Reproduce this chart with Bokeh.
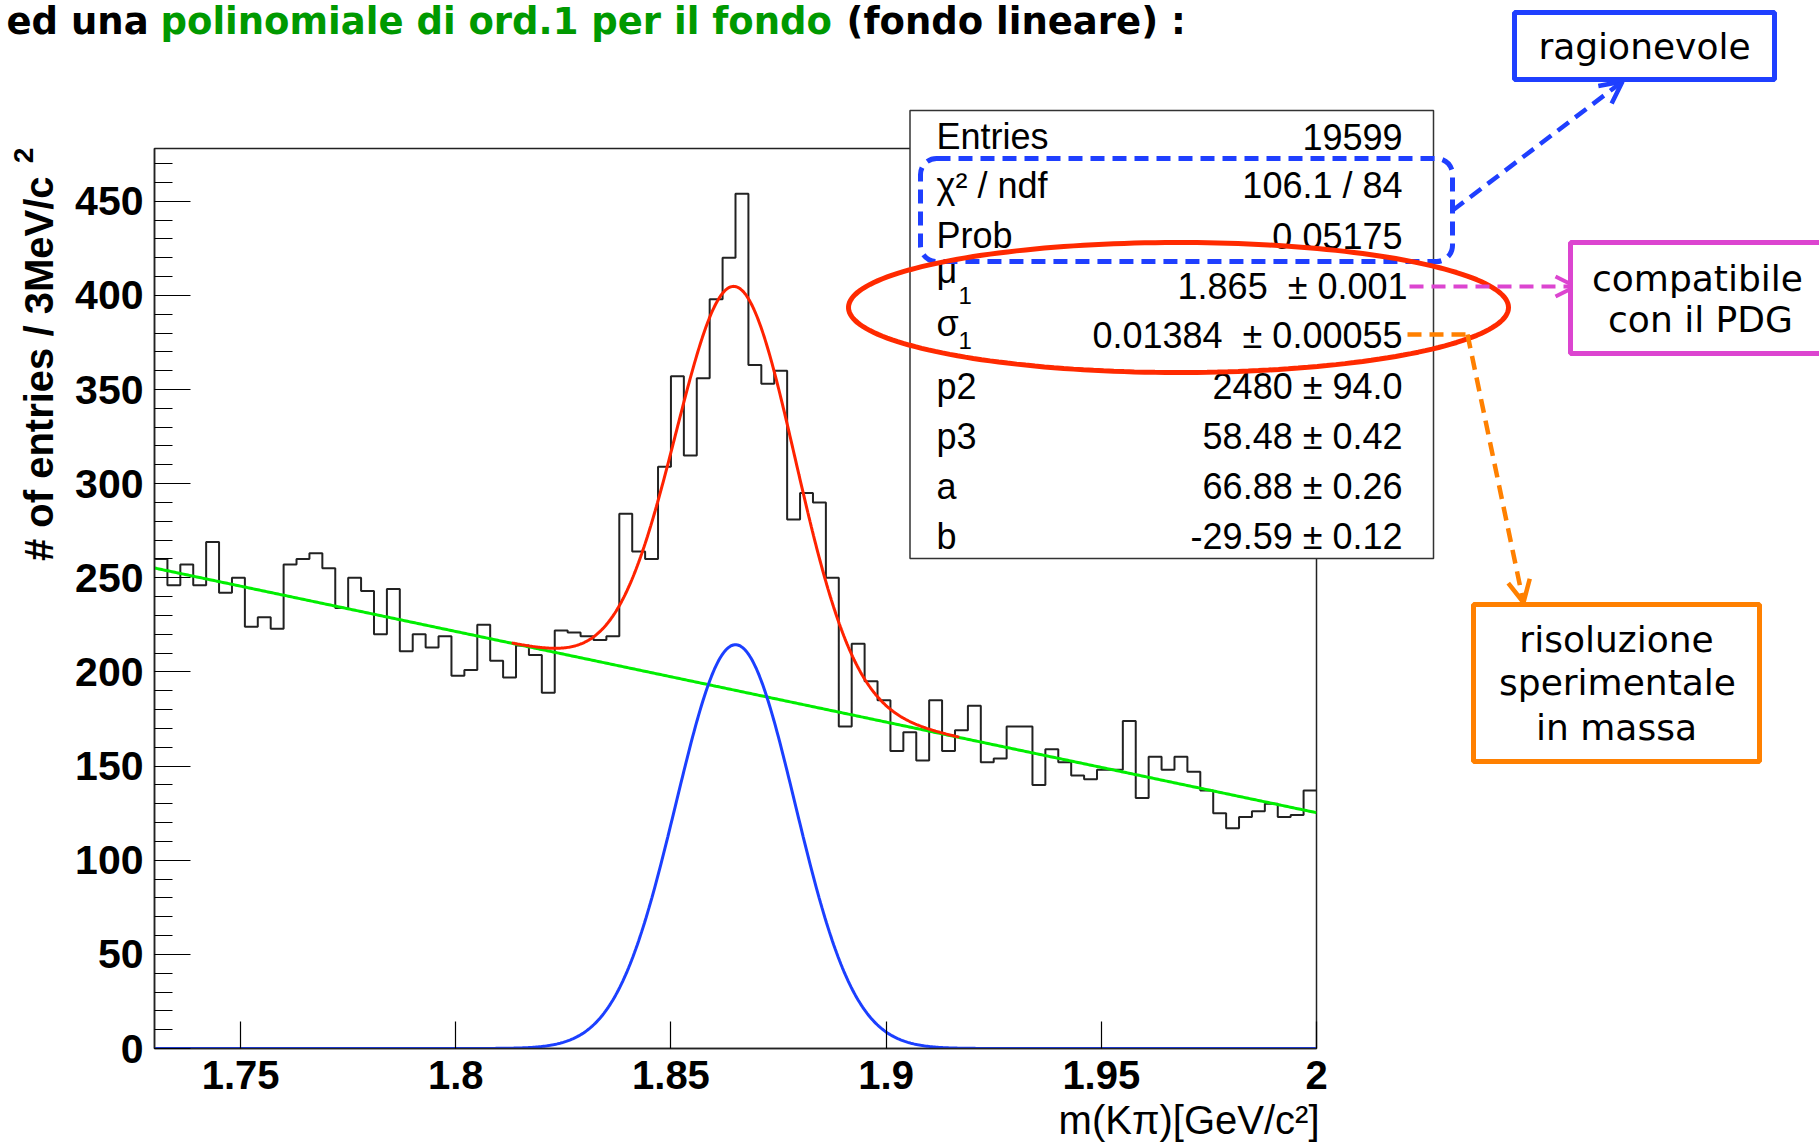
import numpy as np
from bokeh.plotting import figure
from bokeh.models import (Range1d, FixedTicker, NumeralTickFormatter, Label, BoxAnnotation,
                          PolyAnnotation, Arrow, OpenHead)
from bokeh.embed import file_html
from bokeh.resources import INLINE

# ---------------- data ----------------
bin_lo = 1.73
bin_width = 0.003
counts = [260, 246, 257, 246, 269, 242, 250, 224, 229, 223,
          257, 260, 263, 255, 234, 250, 243, 220, 244, 211,
          220, 213, 219, 198, 201, 225, 206, 197, 214, 209,
          189, 222, 221, 219, 217, 219, 284, 264, 260, 309,
          357, 315, 356, 398, 420, 454, 363, 353, 360, 281,
          295, 290, 250, 171, 215, 195, 185, 158, 168, 153,
          185, 158, 169, 182, 152, 154, 171, 171, 140, 159,
          152, 145, 143, 148, 148, 174, 133, 155, 148, 155,
          147, 137, 125, 117, 123, 126, 130, 123, 124, 137]
entries = 19599

# fit parameters (stat box)
mu1 = 1.865
sigma1 = 0.01384
p2 = 2480.0
p3 = 58.48
a_par = 66.88
b_par = -29.59
red_range = [1.813, 1.917]

stats_labels = ["Entries", "\u03c7\u00b2 / ndf", "Prob", "\u03bc", "\u03c3", "p2", "p3", "a", "b"]
stats_values = ["19599", "106.1 / 84", "0.05175", "1.865\u00a0 \u00b1 0.001",
                "0.01384\u00a0 \u00b1 0.00055",
                "2480 \u00b1 94.0", "58.48 \u00b1 0.42", "66.88 \u00b1 0.26", "-29.59 \u00b1 0.12"]

x_ticks = [1.75, 1.8, 1.85, 1.9, 1.95, 2.0]
y_ticks = [0, 50, 100, 150, 200, 250, 300, 350, 400, 450]
y_minor = list(range(0, 480, 10))

# ---------------- geometry ----------------
W, H = 1819, 1142
FL, FR, FT, FB = 154, 1316, 148, 1048
X0, X1, Y0, Y1 = 1.73, 2.0, 0.0, 478.0

# ---------------- main plot ----------------
p = figure(width=W, height=H, x_range=Range1d(X0, X1), y_range=Range1d(Y0, Y1),
           output_backend="svg", toolbar_location=None,
           min_border_left=FL, min_border_right=W - FR, min_border_top=FT, min_border_bottom=H - FB,
           styles={"position": "absolute", "left": "0px", "top": "0px", "z-index": "0"})
p.grid.visible = False
p.background_fill_color = "white"
p.border_fill_color = "white"
p.outline_line_color = "#222222"
p.outline_line_width = 1.5

xa = p.xaxis[0]
xa.ticker = FixedTicker(ticks=x_ticks, minor_ticks=[])
xa.formatter = NumeralTickFormatter(format="0.[00]")
xa.major_tick_in = 27
xa.major_tick_out = 0
xa.minor_tick_in = 0
xa.minor_tick_out = 0
xa.axis_line_color = "#222222"
xa.axis_line_width = 1.5
xa.major_tick_line_width = 1.2
xa.major_label_text_font = "Liberation Sans"
xa.major_label_text_font_style = "bold"
xa.major_label_text_font_size = "40px"
xa.major_label_text_color = "black"
xa.major_label_standoff = 12

ya = p.yaxis[0]
ya.ticker = FixedTicker(ticks=y_ticks, minor_ticks=y_minor)
ya.major_tick_in = 36
ya.major_tick_out = 0
ya.minor_tick_in = 18
ya.minor_tick_out = 0
ya.axis_line_color = "#222222"
ya.axis_line_width = 1.5
ya.major_tick_line_width = 1.2
ya.minor_tick_line_width = 1.2
ya.major_label_text_font = "Liberation Sans"
ya.major_label_text_font_style = "bold"
ya.major_label_text_font_size = "41px"
ya.major_label_text_color = "black"
ya.major_label_standoff = 11

edges = bin_lo + bin_width * np.arange(len(counts) + 1)
vals = list(counts) + [counts[-1]]
p.step(edges, vals, mode="after", line_color="#222222", line_width=2)

xx = np.linspace(X0, X1, 800)
gauss = p2 * bin_width / (np.sqrt(2 * np.pi) * sigma1) * np.exp(-0.5 * ((xx - mu1) / sigma1) ** 2)
integral = a_par * (X1 - X0) + b_par * (X1 ** 2 - X0 ** 2) / 2
bkg_norm = (entries - p2) * bin_width / integral
bkg = bkg_norm * (a_par + b_par * xx)
p.line(xx, bkg, line_color="#00ee00", line_width=3)
p.line(xx, gauss, line_color="#1b3fff", line_width=3)
xr = np.linspace(red_range[0], red_range[1], 400)
tot = (p2 * bin_width / (np.sqrt(2 * np.pi) * sigma1) * np.exp(-0.5 * ((xr - mu1) / sigma1) ** 2)
       + bkg_norm * (a_par + b_par * xr))
p.line(xr, tot, line_color="#ff2200", line_width=3)

# ---------------- transparent overlay (page pixels) ----------------
ov = figure(width=W, height=H, x_range=Range1d(0, W), y_range=Range1d(H, 0),
            output_backend="svg", toolbar_location=None,
            x_axis_location=None, y_axis_location=None,
            min_border_left=0, min_border_right=0, min_border_top=0, min_border_bottom=0,
            styles={"position": "absolute", "left": "0px", "top": "0px", "z-index": "1"})
ov.grid.visible = False
ov.outline_line_color = None
ov.background_fill_alpha = 0.0
ov.border_fill_alpha = 0.0


def lab(x, y, text, size, font="Liberation Sans", style="normal", align="left",
        color="black", angle=0.0):
    ov.add_layout(Label(x=x, y=y, text=text, text_align=align, text_baseline="middle",
                        text_font=font, text_font_style=style, text_font_size=size,
                        text_color=color, angle=angle))


# axis titles
lab(38.5, 176, "# of entries / 3MeV/c", "40px", style="bold", align="right", angle=np.pi / 2)
lab(23, 155, "2", "28px", style="bold", align="center", angle=np.pi / 2)
lab(1319, 1119, "m(K\u03c0)[GeV/c\u00b2]", "40px", align="right")

# page title
title_parts = [("ed una", 6, "black"), ("polinomiale di ord.1 per il fondo", 160, "#009900"),
               ("(fondo lineare) :", 846, "black")]
for txt, px, col in title_parts:
    lab(px, 21, txt, "37px", font="DejaVu Sans", style="bold", color=col)

# stats box
ov.add_layout(BoxAnnotation(left=909.5, right=1433, top=110, bottom=558,
                            fill_color="white", fill_alpha=1.0, line_color="#333333",
                            line_alpha=1.0, line_width=1.5))
row_mid = [136, 185, 235, 285.5, 335, 386, 436, 486, 536]
label_mid = [136, 185, 235, 270, 323, 386, 436, 486, 536]
value_right = [1402, 1402, 1402, 1407, 1402, 1402, 1402, 1402, 1402]
for i, (lb, val) in enumerate(zip(stats_labels, stats_values)):
    lab(936, label_mid[i], lb, "36px")
    lab(value_right[i], row_mid[i], val, "36px", align="right")
for ym in (295, 340):
    lab(958, ym, "1", "24px")

BLUE = "#1f3fff"
MAG = "#dc45d0"
ORA = "#ff8000"
RED = "#ff2a00"

# blue dashed rounded box around chi2 / prob
ov.add_layout(BoxAnnotation(left=920, right=1452, top=158, bottom=261,
                            fill_alpha=0.0, line_color=BLUE, line_alpha=1.0, line_width=5,
                            line_dash="14 8", border_radius=16))

# red ellipse
t = np.linspace(0, 2 * np.pi, 200)
ex = list(1178 + 330 * np.cos(t))
ey = list(307 + 65 * np.sin(t))
ov.add_layout(PolyAnnotation(xs=ex, ys=ey, fill_alpha=0.0, line_color=RED, line_alpha=1.0,
                             line_width=5))

# arrows
ov.add_layout(Arrow(x_start=1452, y_start=210, x_end=1622, y_end=81,
                    line_color=BLUE, line_width=4.5, line_dash="14 8",
                    end=OpenHead(size=22, line_color=BLUE, line_width=4.5)))
ov.add_layout(Arrow(x_start=1409, y_start=286, x_end=1575, y_end=286,
                    line_color=MAG, line_width=4, line_dash="14 8",
                    end=OpenHead(size=20, line_color=MAG, line_width=4)))
ov.add_layout(Arrow(x_start=1407, y_start=334, x_end=1467, y_end=334,
                    line_color=ORA, line_width=4.5, line_dash="14 8", end=None))
ov.add_layout(Arrow(x_start=1467, y_start=334, x_end=1523, y_end=602,
                    line_color=ORA, line_width=4.5, line_dash="14 8",
                    end=OpenHead(size=22, line_color=ORA, line_width=4.5)))

# annotation boxes
boxes = [(1514, 1774, 12, 79, BLUE), (1570, 1835, 242, 353, MAG), (1473, 1759, 604, 761, ORA)]
for l, r, tp, bt, col in boxes:
    ov.add_layout(BoxAnnotation(left=l, right=r, top=tp, bottom=bt,
                                fill_color="white", fill_alpha=1.0, line_color=col,
                                line_alpha=1.0, line_width=5))
notes = [("ragionevole", 1644, 46), ("compatibile", 1697, 278), ("con il PDG", 1700, 319),
         ("risoluzione", 1616, 639), ("sperimentale", 1617, 682), ("in massa", 1616, 727)]
for txt, px, py in notes:
    lab(px, py, txt, "36px", font="DejaVu Sans", align="center")

open("out.html", "w").write(file_html([p, ov], INLINE))
